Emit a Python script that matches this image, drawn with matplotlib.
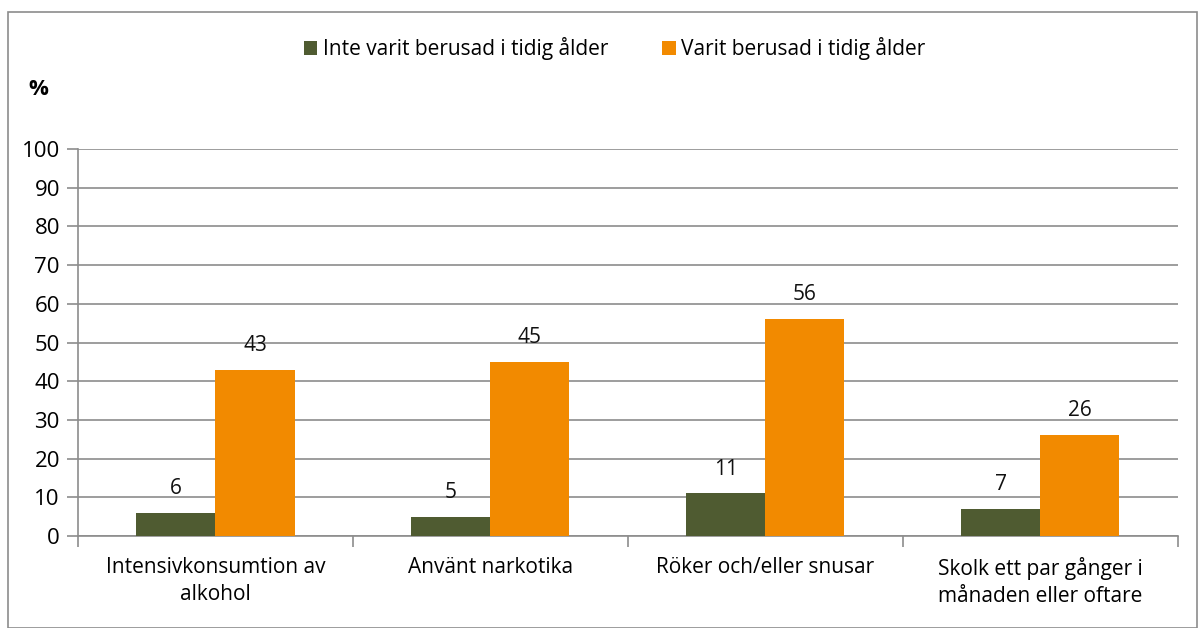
import matplotlib.pyplot as plt
import numpy as np
from matplotlib.patches import Rectangle

categories = ["Intensivkonsumtion av\nalkohol", "Använt narkotika",
              "Röker och/eller snusar", "Skolk ett par gånger i\nmånaden eller oftare"]
inte_berusad = [6, 5, 11, 7]
berusad = [43, 45, 56, 26]
series_names = ["Inte varit berusad i tidig ålder", "Varit berusad i tidig ålder"]
yticks = list(range(0, 101, 10))


def main():
    plt.rcParams['font.family'] = ['Open Sans', 'DejaVu Sans']
    fig = plt.figure(figsize=(11.98, 6.28), dpi=100)
    ax = fig.add_axes([0.0651, 0.1465, 0.9180, 0.6162])

    x = np.arange(len(categories))
    w = 0.2875
    green = '#4F5B31'
    orange = '#F28A00'
    b1 = ax.bar(x - w / 2, inte_berusad, w, color=green, label=series_names[0], zorder=3)
    b2 = ax.bar(x + w / 2, berusad, w, color=orange, label=series_names[1], zorder=3)
    for bars in (b1, b2):
        ax.bar_label(bars, padding=10, fontsize=15, color='#111111')

    ax.set_xlim(-0.5, len(categories) - 0.5)
    ax.set_ylim(0, 100)
    ax.set_yticks(yticks)
    ax.yaxis.grid(True, color='#8c8c8c', linewidth=1.2, zorder=0)
    ax.set_axisbelow(True)

    ax.set_xticks(x)
    ax.set_xticklabels(categories, fontsize=15, linespacing=1.4)
    ax.set_xticks(np.arange(len(categories) + 1) - 0.5, minor=True)
    ax.tick_params(axis='x', which='major', length=0, pad=15)
    ax.tick_params(axis='x', which='minor', length=8, color='#8c8c8c', width=1.2)
    ax.tick_params(axis='y', length=8, color='#8c8c8c', width=1.2, labelsize=16, pad=5)

    for side in ('top', 'right'):
        ax.spines[side].set_visible(False)
    for side in ('left', 'bottom'):
        ax.spines[side].set_color('#8c8c8c')
        ax.spines[side].set_linewidth(1.2)

    fig.text(0.032, 0.858, '%', fontsize=16, fontweight='bold', ha='center', va='center')
    fig.legend(loc='center', bbox_to_anchor=(0.513, 0.922), ncol=2, frameon=False,
               fontsize=15, handlelength=0.65, handleheight=0.65, handletextpad=0.25,
               columnspacing=2.6)

    fig.patches.append(Rectangle((8 / 1198, 0.0), 1 - 8 / 1198 - 0.001, 1 - 12 / 628,
                                 transform=fig.transFigure, fill=False,
                                 edgecolor='#8c8c8c', linewidth=1.2))

    fig.savefig('out.png', dpi=100)


if __name__ == "__main__":
    main()
